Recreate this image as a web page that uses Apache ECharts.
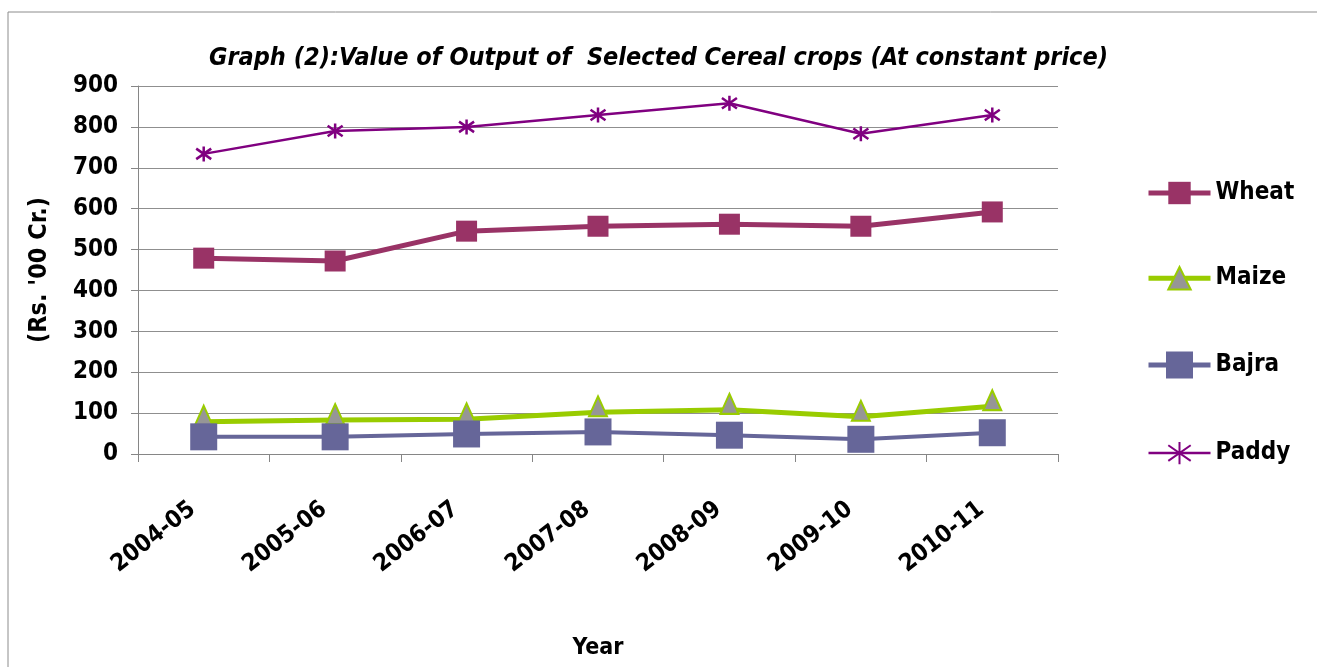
<!DOCTYPE html>
<html>
<head>
<meta charset="utf-8">
<script src="https://cdn.jsdelivr.net/npm/echarts@6/dist/echarts.min.js"></script>
<style>
  html, body { margin: 0; padding: 0; background: #fff; }
  #chart { width: 1317px; height: 667px; }
</style>
</head>
<body>
<div id="chart"></div>
<script>
// data
let years = ['2004-05', '2005-06', '2006-07', '2007-08', '2008-09', '2009-10', '2010-11'];
let wheat = [479, 472, 545, 557, 562, 557, 592];
let maize = [79, 83, 85, 102, 108, 91, 117];
let bajra = [42, 42, 49, 54, 46, 36, 52];
let paddy = [734, 790, 800, 829, 858, 783, 829];
let yTicks = [0, 100, 200, 300, 400, 500, 600, 700, 800, 900];

const FONT = "'DejaVu Sans Condensed', 'Open Sans', sans-serif";
const asterisk = 'path://M5,0L5,10M0,1.5L10,8.5M10,1.5L0,8.5';
// big square on a line, for the Bajra legend key
const bajraIcon = 'path://M0,11.5H62V16.5H0ZM17.5,0.5H44.5V27.5H17.5Z';

let myChart = echarts.init(document.getElementById('chart'));
let option = {
    backgroundColor: '#fff',
    textStyle: { fontFamily: FONT },
    graphic: [{
        type: 'rect',
        shape: { x: 8, y: 12, width: 1320, height: 670 },
        style: { fill: 'none', stroke: '#8c8c8c', lineWidth: 1 },
        silent: true
    }],
    title: {
        text: 'Graph (2):Value of Output of  Selected Cereal crops (At constant price)',
        left: 'center',
        top: 41,
        textStyle: { fontFamily: FONT, fontSize: 25, fontWeight: 'bold', fontStyle: 'italic', color: '#000' }
    },
    legend: {
        orient: 'vertical',
        left: 1146,
        top: 181,
        padding: 0,
        itemGap: 61,
        itemWidth: 62,
        itemHeight: 28,
        textStyle: { fontFamily: FONT, fontSize: 24, fontWeight: 'bold', color: '#000' },
        data: [
            { name: 'Wheat', lineStyle: { width: 5 } },
            { name: 'Maize', lineStyle: { width: 5 } },
            { name: 'Bajra', icon: bajraIcon },
            { name: 'Paddy', lineStyle: { width: 2.5 } }
        ]
    },
    grid: { left: 138, right: 259, top: 86, bottom: 213, containLabel: false },
    xAxis: {
        type: 'category',
        data: years,
        boundaryGap: true,
        name: 'Year',
        nameLocation: 'middle',
        nameGap: 183,
        nameTextStyle: { fontFamily: FONT, fontSize: 23, fontWeight: 'bold', color: '#000' },
        axisLine: { lineStyle: { color: '#868686', width: 1 } },
        axisTick: { show: true, length: 8, alignWithLabel: false, lineStyle: { color: '#868686' } },
        axisLabel: { rotate: 38, margin: 44, padding: [0, 14, 0, 0], fontFamily: FONT, fontSize: 24, fontWeight: 'bold', color: '#000' }
    },
    yAxis: {
        type: 'value',
        min: yTicks[0],
        max: yTicks[yTicks.length - 1],
        interval: 100,
        name: "(Rs. '00 Cr.)",
        nameLocation: 'middle',
        nameGap: 86,
        nameRotate: 90,
        nameTextStyle: { fontFamily: FONT, fontSize: 25, fontWeight: 'bold', color: '#000' },
        axisLine: { show: true, lineStyle: { color: '#868686', width: 1 } },
        axisTick: { show: true, length: 7, lineStyle: { color: '#868686' } },
        axisLabel: { margin: 20, fontFamily: FONT, fontSize: 24, fontWeight: 'bold', color: '#000' },
        splitLine: { show: true, lineStyle: { color: '#8f8f8f', width: 1 } }
    },
    series: [
        {
            name: 'Wheat', type: 'line', data: wheat,
            symbol: 'rect', symbolSize: 21,
            lineStyle: { color: '#993366', width: 5 },
            itemStyle: { color: '#993366', borderWidth: 0 }
        },
        {
            name: 'Maize', type: 'line', data: maize,
            symbol: 'triangle', symbolSize: [18, 20], symbolOffset: [0, -6],
            lineStyle: { color: '#99cc00', width: 5 },
            itemStyle: { color: '#969696', borderColor: '#99cc00', borderWidth: 2 }
        },
        {
            name: 'Bajra', type: 'line', data: bajra,
            symbol: 'rect', symbolSize: 27,
            lineStyle: { color: '#666699', width: 4 },
            itemStyle: { color: '#666699', borderWidth: 0 }
        },
        {
            name: 'Paddy', type: 'line', data: paddy,
            symbol: asterisk, symbolSize: 15,
            lineStyle: { color: '#800080', width: 2.5 },
            itemStyle: { color: 'none', borderColor: '#800080', borderWidth: 2.5 }
        }
    ],
    animation: false
};
myChart.setOption(option, true);
</script>
</body>
</html>
